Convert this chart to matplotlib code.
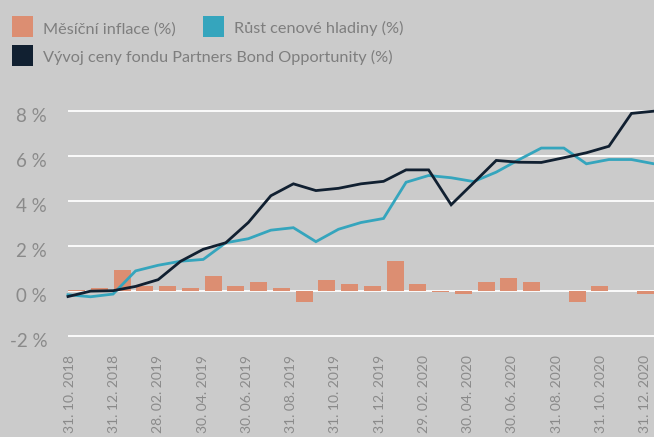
import matplotlib
matplotlib.use("Agg")
import matplotlib.pyplot as plt
from matplotlib.patches import Rectangle
from matplotlib.transforms import ScaledTranslation
import numpy as np

plt.rcParams['font.family'] = ['Lato', 'DejaVu Sans']

# Month-end dates of the fund price series
dates = ["31. 10. 2018", "30. 11. 2018", "31. 12. 2018", "31. 01. 2019", "28. 02. 2019",
         "31. 03. 2019", "30. 04. 2019", "31. 05. 2019", "30. 06. 2019", "31. 07. 2019",
         "31. 08. 2019", "30. 09. 2019", "31. 10. 2019", "30. 11. 2019", "31. 12. 2019",
         "31. 01. 2020", "29. 02. 2020", "31. 03. 2020", "30. 04. 2020", "31. 05. 2020",
         "30. 06. 2020", "31. 07. 2020", "31. 08. 2020", "30. 09. 2020", "31. 10. 2020",
         "30. 11. 2020", "31. 12. 2020"]

# Cumulative change of the fund price (%)
fund_change = [-0.26, -0.02, 0.0, 0.19, 0.49, 1.31, 1.84, 2.13, 3.03, 4.22, 4.75, 4.45,
               4.55, 4.75, 4.86, 5.37, 5.37, 3.82, 4.80, 5.79, 5.71, 5.70, 5.91, 6.13,
               6.42, 7.88, 7.98]

# Cumulative price level growth (%)
price_level = [-0.18, -0.27, -0.15, 0.88, 1.13, 1.31, 1.39, 2.13, 2.31, 2.69, 2.80, 2.18,
               2.73, 3.03, 3.21, 4.82, 5.12, 5.02, 4.85, 5.27, 5.82, 6.34, 6.34, 5.64,
               5.83, 5.83, 5.64]

# Monthly inflation (%)
monthly_inflation = [0.05, 0.13, 0.90, 0.22, 0.22, 0.13, 0.67, 0.22, 0.37, 0.10, -0.52,
                     0.46, 0.28, 0.20, 1.31, 0.28, -0.05, -0.13, 0.40, 0.58, 0.40, 0.0,
                     -0.49, 0.22, 0.0, -0.13]

y_ticks = [-2, 0, 2, 4, 6, 8]

labels = ["Měsíční inflace (%)", "Růst cenové hladiny (%)",
          "Vývoj ceny fondu Partners Bond Opportunity (%)"]

BG = "#cbcbcb"
ORANGE = "#dc8e72"
TEAL = "#35a5bd"
NAVY = "#112031"
TEXT = "#7e7e7e"
TICK = "#8a8a8a"

W, H = 654, 437
fig = plt.figure(figsize=(W / 100, H / 100), dpi=100, facecolor=BG)

rect = [68 / W, 0.2164, (W - 68) / W, 0.5457]

# Bars and grid on the lower axes
ax_bar = fig.add_axes(rect)
ax_bar.patch.set_visible(False)
n_bars = len(monthly_inflation)
bar_w = 0.75
ax_bar.bar(np.arange(n_bars), monthly_inflation, width=bar_w, align='edge',
           color=ORANGE, zorder=3)
ax_bar.set_xlim(0, n_bars - 1 + bar_w)
ax_bar.set_ylim(-2.3, 8.3)
ax_bar.set_yticks(y_ticks)
ax_bar.set_yticklabels([f"{v} %" for v in y_ticks])
ax_bar.set_xticks([])
ax_bar.grid(axis='y', color='white', linewidth=1.3, zorder=0)
ax_bar.tick_params(axis='y', length=0, pad=15, labelsize=13.5, labelcolor=TICK)
for s in ax_bar.spines.values():
    s.set_visible(False)
for lbl in ax_bar.get_yticklabels():
    lbl.set_transform(lbl.get_transform() + ScaledTranslation(0, -0.04, fig.dpi_scale_trans))

# Date labels on a slightly narrower strip so the last one stays inside
x = np.arange(len(dates))
ax_lbl = fig.add_axes([70 / W, rect[1], 575 / W, rect[3]])
ax_lbl.patch.set_visible(False)
ax_lbl.set_xlim(0, len(dates) - 1)
ax_lbl.set_xticks(x[::2])
ax_lbl.set_xticklabels(dates[::2], rotation=90)
ax_lbl.tick_params(axis='x', length=0, pad=9, labelsize=10, labelcolor=TICK)
ax_lbl.set_yticks([])
for s in ax_lbl.spines.values():
    s.set_visible(False)

# Lines on the upper axes
ax_line = fig.add_axes(rect, sharey=ax_bar)
ax_line.patch.set_visible(False)
ax_line.plot(x, price_level, color=TEAL, linewidth=2.0, clip_on=False,
             solid_joinstyle='miter', zorder=4)
ax_line.plot(x, fund_change, color=NAVY, linewidth=2.0, clip_on=False,
             solid_joinstyle='miter', zorder=5)
ax_line.set_xlim(0, len(dates) - 1)
ax_line.set_xticks([])
ax_line.tick_params(axis='y', left=False, labelleft=False)
for s in ax_line.spines.values():
    s.set_visible(False)

# Legend drawn as coloured squares with captions
def legend_item(px, py, color, text):
    fig.add_artist(Rectangle((px / W, 1 - (py + 21) / H), 21 / W, 21 / H,
                             transform=fig.transFigure, facecolor=color,
                             edgecolor='none'))
    fig.text((px + 31) / W, 1 - (py + 17.3) / H, text, fontsize=11.7,
             color=TEXT, va='baseline', ha='left')

legend_item(12, 16, ORANGE, labels[0])
legend_item(203, 16, TEAL, labels[1])
legend_item(12, 45, NAVY, labels[2])

fig.savefig("out.png", dpi=100, facecolor=BG)
